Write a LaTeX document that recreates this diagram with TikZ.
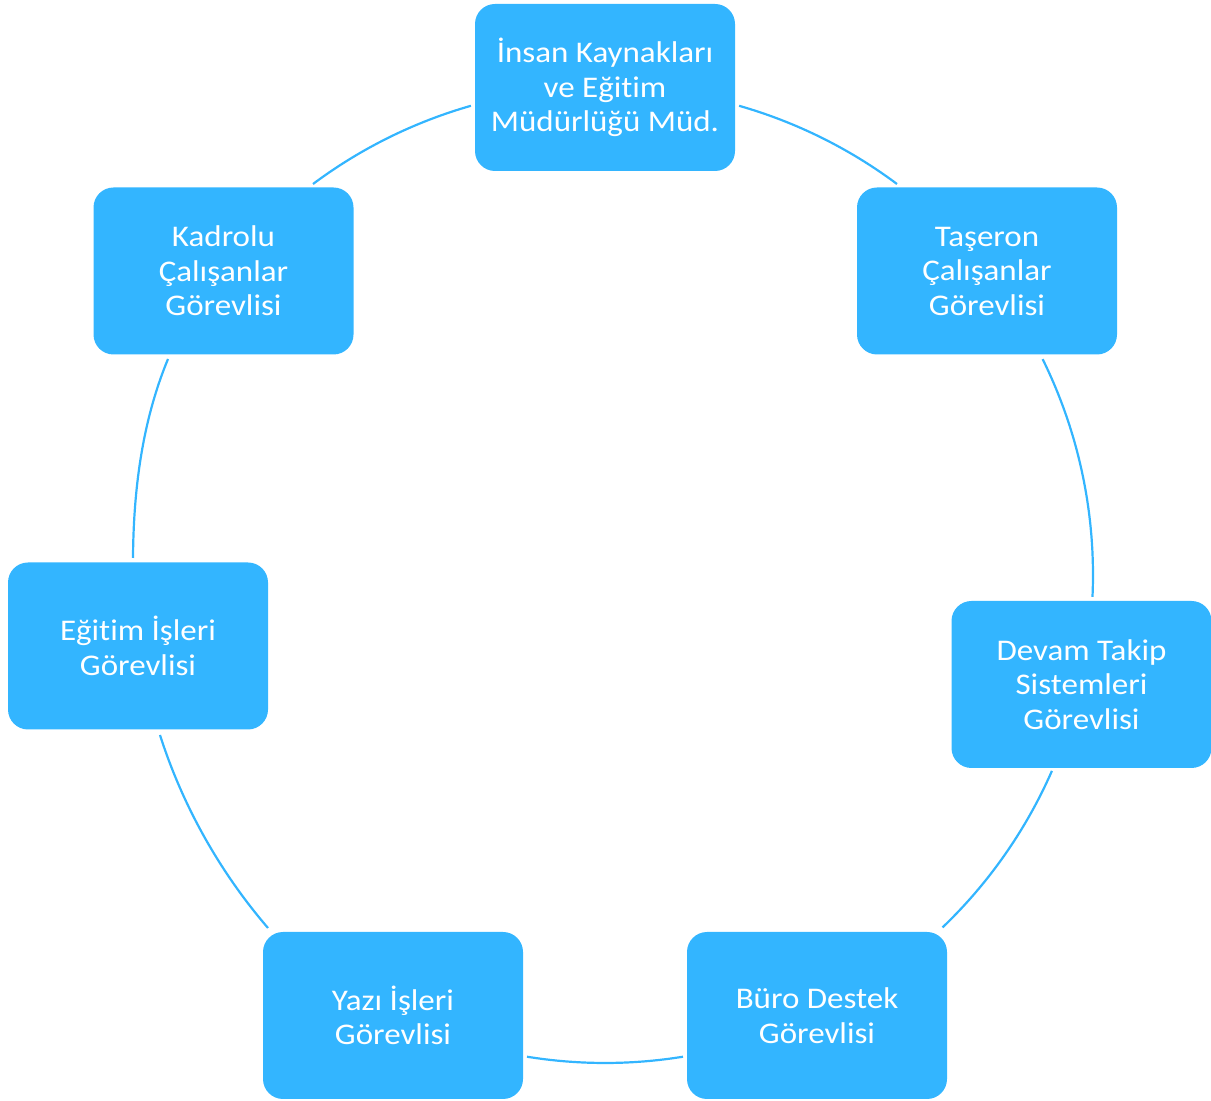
\documentclass[tikz,border=0pt]{standalone}
\usepackage{fontspec}
\newfontfamily\boxfont{Carlito}[FakeStretch=1.1,Ligatures=NoCommon,RawFeature=-liga]
\usetikzlibrary{calc}
\definecolor{boxblue}{RGB}{51,181,255}
\tikzset{
  box/.style={rectangle, rounded corners=20pt, fill=boxblue, minimum width=260pt,
    minimum height=167pt, text=white, align=center, inner sep=0pt,
    font=\boxfont\fontsize{30}{34.5}\selectfont},
  link/.style={draw=boxblue, line width=2.2pt}
}
\begin{document}
\begin{tikzpicture}[x=1pt,y=1pt]
\useasboundingbox (0,0) rectangle (1211,1101);
\coordinate (C) at (605,526);
% nodes
\node[box] (top)  at (605,1013.5) {İnsan Kaynakları\\ve Eğit\kern0pt im\\Müdürlüğü Müd.};
\node[box] (tas)  at (987,830)    {Taşeron\\Çalışanlar\\Görevlisi};
\node[box] (dev)  at (1081.5,416.5) {Devam Takip\\Sistemleri\\Görevlisi};
\node[box] (buro) at (817,85.5)   {Büro Destek\\Görevlisi};
\node[box] (yazi) at (393,85.5)   {Yazı İşleri\\Görevlisi};
\node[box] (egt)  at (138,455)    {Eğit\kern0pt im İşleri\\Görevlisi};
\node[box] (kad)  at (223.5,830)  {Kadrolu\\Çalışanlar\\Görevlisi};
% connector end points
\coordinate (e1) at ($(C)+(74.05:488)$);
\coordinate (e2) at ($(C)+(26.25:488)$);
\coordinate (e3) at ($(C)+(-23.67:488)$);
\coordinate (e4) at ($(C)+(-80.8:488)$);
\coordinate (e5s) at (268,173);
\coordinate (e5e) at (160,366);
\coordinate (e6s) at (168,742);
\coordinate (e6e) at (133,543);
\coordinate (e7) at ($(C)+(126.75:488)$);
% connectors
\draw[link] (e1) arc[start angle=74.05, end angle=53.25, radius=488];
\draw[link] (e2) arc[start angle=26.25, end angle=-2.58, radius=488];
\draw[link] (e3) arc[start angle=-23.67, end angle=-46.24, radius=488];
\draw[link] (e4) arc[start angle=-80.8, end angle=-99.2, radius=488];
\draw[link] (e5s) .. controls (219.7,229.1) and (182.5,295.5) .. (e5e);
\draw[link] (e6e) .. controls (133.5,611) and (142,679.1) .. (e6s);
\draw[link] (e7) arc[start angle=126.75, end angle=105.95, radius=488];
\end{tikzpicture}
\end{document}
